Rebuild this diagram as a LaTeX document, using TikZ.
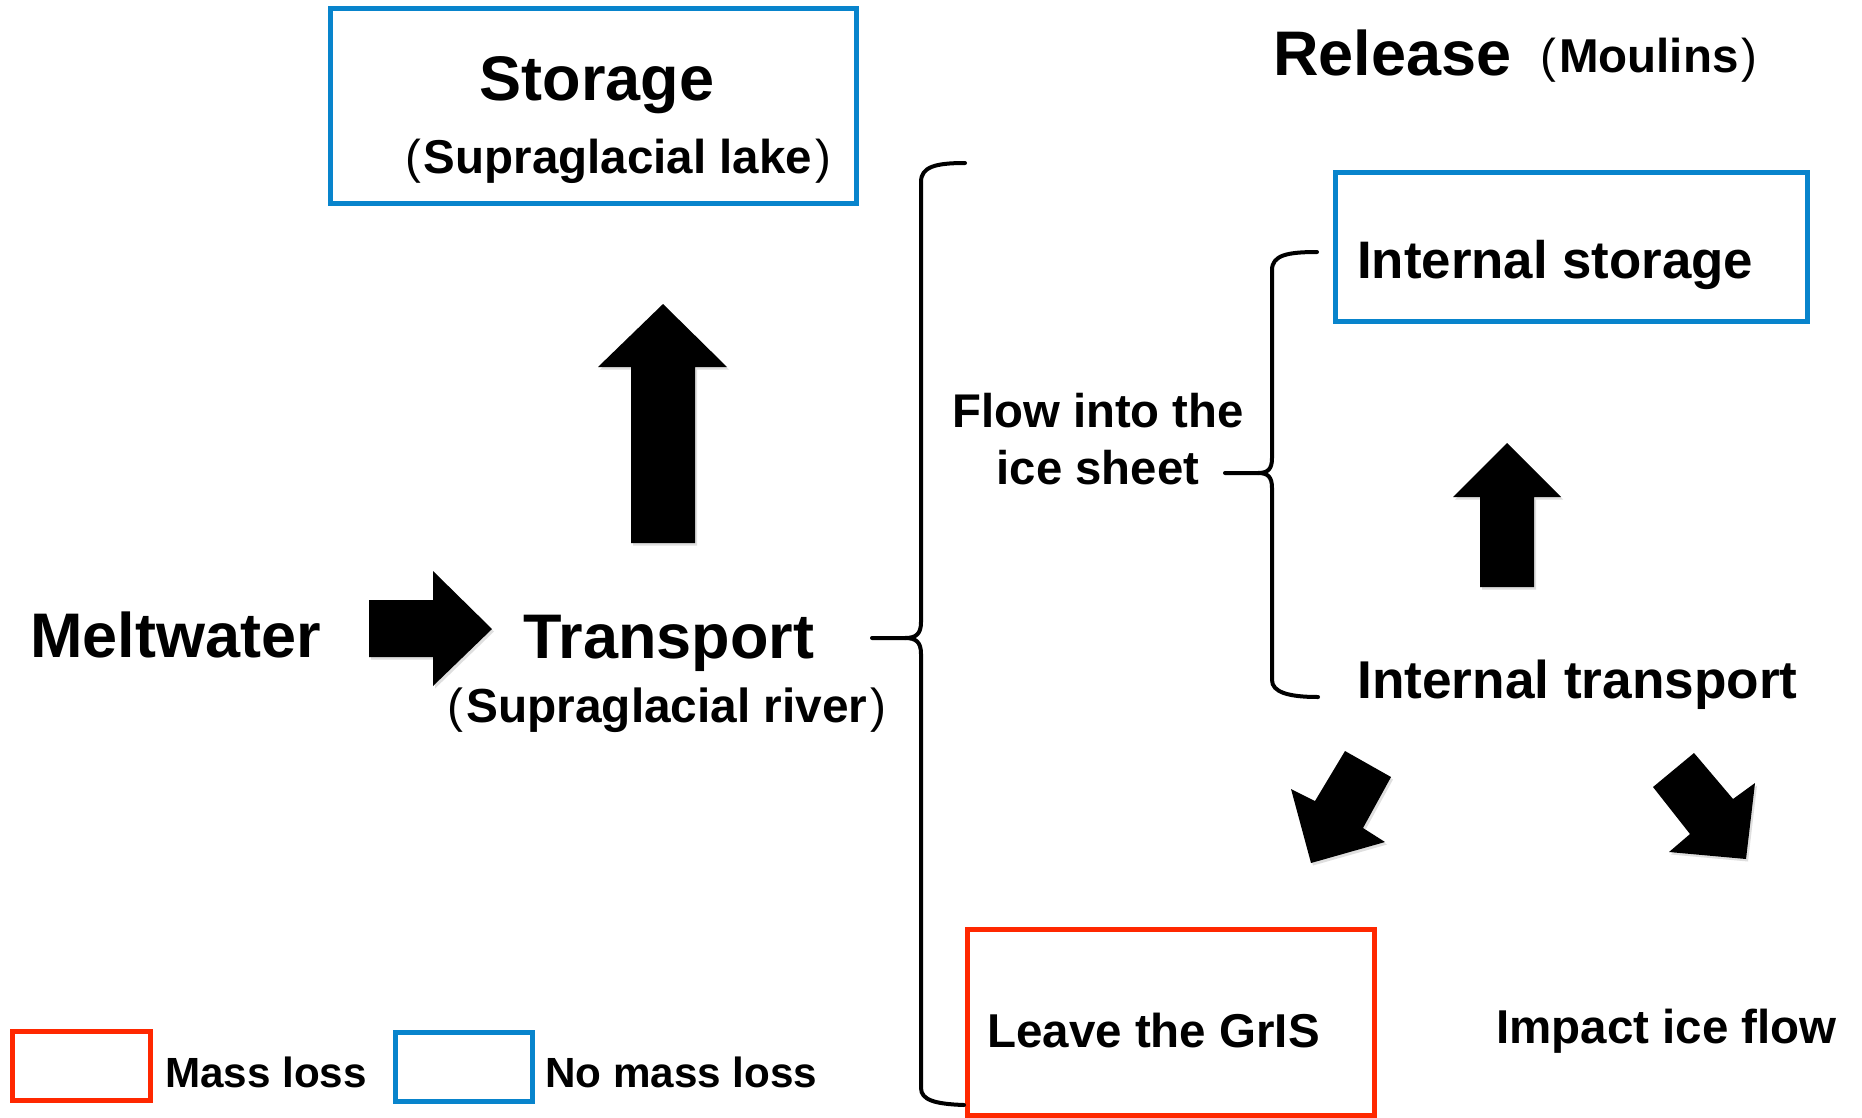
\documentclass[tikz,border=0pt]{standalone}
\usepackage{fontspec}
\setmainfont{Liberation Sans}
\usetikzlibrary{shadows}
\definecolor{boxblue}{RGB}{8,132,204}
\definecolor{boxred}{RGB}{255,40,0}
\newcommand\opparen{{\mdseries(}\kern3pt}
\newcommand\clparen{\kern3pt{\mdseries)}}
\begin{document}
\begin{tikzpicture}[x=1pt,y=-1pt,
  txt/.style={inner sep=0pt, font=\bfseries\fontsize{#1}{#1}\selectfont},
  shad/.style={drop shadow={shadow xshift=2pt,shadow yshift=-2.5pt,opacity=0.25}},
  bluebox/.style={draw=boxblue, line width=5pt, fill=white, shad},
  redbox/.style={draw=boxred, line width=5pt, fill=white, shad},
  blockarrow/.style={fill=black, shad},
  bracebar/.style={draw=black, line width=4pt, line cap=round, line join=round}]
\useasboundingbox (0,0) rectangle (1862,1117);
\fill[white] (0,0) rectangle (1862,1117);

% boxes
\draw[bluebox] (330,8) rectangle (856,203);
\draw[bluebox] (1335,172) rectangle (1807,321);
\draw[redbox] (967,929) rectangle (1374,1115);
\draw[redbox] (12,1031) rectangle (150,1100);
\draw[bluebox] (395,1032) rectangle (532,1101);

% texts
\node[txt=63, anchor=base west] (melt) at (30,657) {Meltwater};
\node[txt=63, anchor=base] (transport) at (669,658) {Transport};
\node[txt=47.8, anchor=base] (river) at (667,722) {\opparen Supraglacial river\clparen};
\node[txt=63, anchor=base] (storage) at (597,100) {Storage};
\node[txt=47.5, anchor=base] (lake) at (618,173) {\opparen Supraglacial lake\clparen};
\node[txt=63, anchor=base west] (release) at (1273,75) {Release};
\node[txt=47.5, anchor=base west] (moulins) at (1540,72) {\opparen Moulins\clparen};
\node[txt=52.8, anchor=base west] (intstore) at (1357,278) {Internal storage};
\node[txt=53.2, anchor=base west] (inttrans) at (1357,698) {Internal transport};
\node[txt=47.3, anchor=base] (flow1) at (1098,427) {Flow into the};
\node[txt=47.3, anchor=base] (flow2) at (1098,484) {ice sheet};
\node[txt=47.5, anchor=base west] (leave) at (987,1047) {Leave the GrIS};
\node[txt=47.5, anchor=base west] (impact) at (1496,1043) {Impact ice flow};
\node[txt=42.2, anchor=base west] (massloss) at (165,1087) {Mass loss};
\node[txt=42.2, anchor=base west] (nomass) at (545,1087) {No mass loss};

% block arrows
\fill[blockarrow] (369,600) -- (433,600) -- (433,571) -- (492,629) -- (433,686) -- (433,657) -- (369,657) -- cycle;
\fill[blockarrow] (631,543) -- (631,367) -- (598,367) -- (663,304) -- (727,367) -- (695,367) -- (695,543) -- cycle;
\fill[blockarrow] (1480,587) -- (1480,497) -- (1453,497) -- (1507,443) -- (1561,497) -- (1534,497) -- (1534,587) -- cycle;
\fill[blockarrow] (1345,751) -- (1391,777) -- (1363,828) -- (1385,842) -- (1311,863) -- (1291,789) -- (1315,801) -- cycle;
\fill[blockarrow] (1694,753) -- (1653,787) -- (1690,834) -- (1669,852) -- (1746,859) -- (1755,783) -- (1733,799) -- cycle;

% big brace
\coordinate (bigtip) at (872,638);
\coordinate (bigtop) at (965,163);
\coordinate (bigbot) at (964,1105);
\draw[bracebar] (bigtop) .. controls (935,163) and (921,167) .. (921,182) -- (921,622)
  .. controls (921,634) and (916,638) .. (905,638) -- (bigtip);
\draw[bracebar] (905,638) .. controls (916,638) and (921,642) .. (921,654) -- (921,1088)
  .. controls (921,1100) and (935,1104) .. (bigbot);
% small brace
\coordinate (smalltip) at (1225,473);
\coordinate (smalltop) at (1317,252);
\coordinate (smallbot) at (1318,697);
\draw[bracebar] (smalltop) .. controls (1288,252) and (1272,255) .. (1272,270) -- (1272,458)
  .. controls (1272,469) and (1268,473) .. (1258,473) -- (smalltip);
\draw[bracebar] (1258,473) .. controls (1268,473) and (1272,477) .. (1272,488) -- (1272,680)
  .. controls (1272,692) and (1288,697) .. (smallbot);
\end{tikzpicture}
\end{document}
